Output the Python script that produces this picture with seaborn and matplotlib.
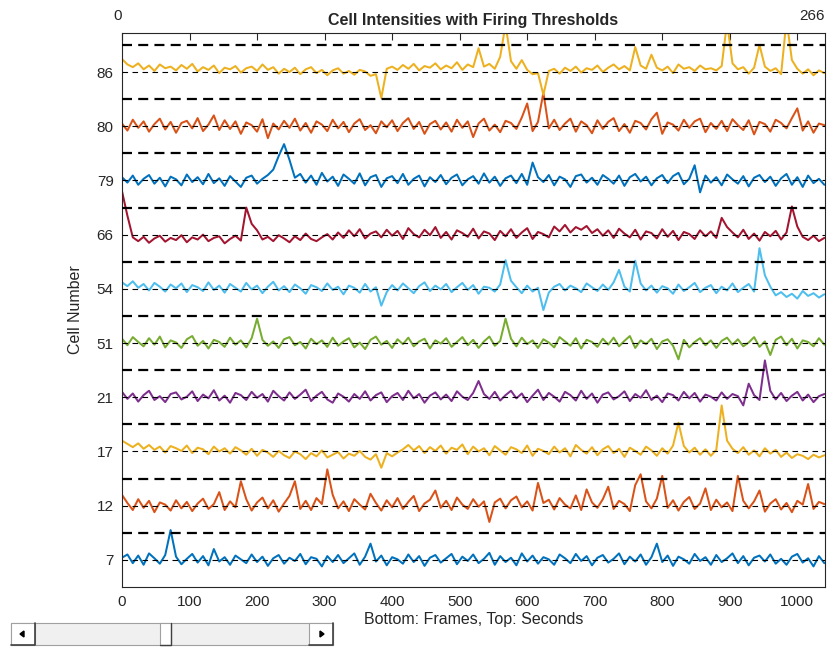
import numpy as np
import pandas as pd
import matplotlib
matplotlib.use("Agg")
import matplotlib.pyplot as plt
from matplotlib.patches import Rectangle, Polygon
import seaborn as sns

# cell labels, bottom to top
cells = ["7", "12", "17", "21", "51", "54", "66", "79", "80", "86"]
colors = ["#0072BD", "#D95319", "#EDB120", "#7E2F8E", "#77AC30",
          "#4DBEEE", "#A2142F", "#0072BD", "#D95319", "#EDB120"]

# one sample every 8 frames, values in hundredths of a row spacing
step = 8
top_seconds = 266

cell7 = [4, 10, -6, 8, -9, 12, 3, -7, 9, 55,
         6, -8, 2, 11, -5, 7, -10, 20, -3, 5,
         -9, 8, 1, -6, 10, -4, 6, -11, 3, 9,
         -7, 4, -2, 11, -8, 5, 2, -12, 7, -4,
         9, -6, 3, 12, -9, 6, 30, -3, 8, -10,
         5, 1, -7, 10, -4, 7, -11, 4, 9, -5,
         3, 11, -8, 6, -2, 10, -6, 2, 13, -9,
         7, -4, 4, -10, 12, -3, 8, -7, 5, 1,
         -9, 10, 3, -6, 11, -2, 7, -10, 4, 9,
         -5, 2, 12, -8, 6, -3, 10, -9, 5, 30,
         -4, 8, -11, 6, 1, -7, 11, -2, 5, -9,
         9, -4, 3, 12, -6, 7, -10, 4, 8, -3,
         10, -7, 2, -9, 6, 11, -5, 3, -12, 7,
         -6]
cell12 = [20, 5, -8, 12, -4, 9, -12, 6, 2, -9,
          10, -5, 7, -10, 4, 13, -6, 3, 25, -8,
          8, -3, 45, 12, -9, 6, 15, -5, 10, -11,
          4, 18, 45, -6, 9, -8, 14, 3, 67, 20,
          -5, 8, -10, 12, 2, -7, 22, 5, -9, 10,
          -3, 14, -6, 7, 18, -10, 4, 11, 28, -4,
          9, -8, 15, 2, -6, 12, -2, 8, -30, 6,
          13, -5, 10, 17, -3, 8, -9, 42, 5, 11,
          -7, 14, 2, -5, 19, -8, 30, 6, -4, 12,
          35, -6, 9, 3, -10, 38, 58, 8, -5, 13,
          55, -4, 10, -9, 7, 16, -6, 4, 32, -8,
          11, -3, 6, -10, 55, 9, -5, 8, 28, -11,
          4, 12, -7, 5, -12, 9, 2, 40, -6, 7,
          3]
cell17 = [20, 14, 8, 15, 5, 12, 3, 9, -2, 10,
          6, 1, 11, -3, 7, 4, -5, 9, 0, 6,
          -4, 8, 2, -6, 5, -8, 3, -2, -10, 1,
          -7, -12, 0, -5, -14, -3, -9, 2, -11, -6,
          -1, -13, -4, -8, 1, -10, -15, -5, -30, -3,
          -9, -2, 4, 12, 2, 10, -3, 8, 1, 11,
          -4, 7, 3, 13, -5, 9, 0, 6, -7, 10,
          2, -6, 8, 4, -3, 11, -8, 5, 1, -5,
          9, -2, 6, -9, 12, 3, -4, 8, -7, 4,
          10, -3, 5, -10, 7, 1, -6, 9, 2, -8,
          6, -4, 11, 53, 10, -2, 7, -6, 4, -8,
          3, 85, 20, 5, -3, 8, -6, 2, -9, 6,
          -4, 3, -10, -2, -12, -5, -8, -14, -6, -11,
          -7]
cell21 = [10, -3, 7, -8, 4, 12, -5, 2, -9, 6,
          9, -4, 1, 11, -7, 5, -2, 13, -6, 3,
          -10, 8, 4, -5, 10, -1, 6, -8, 12, 2,
          -6, 9, -3, 5, 14, -7, 3, 10, -4, -10,
          7, 1, -8, 6, -3, 11, -6, 4, 9, -9,
          2, 8, -5, 12, -2, 6, -10, 3, 9, -4,
          5, -7, 11, 1, -5, 8, 30, 6, -3, 10,
          -6, 4, 12, -2, 7, -9, 3, 14, -5, 8,
          1, -8, 10, 4, -6, 12, -3, 7, -10, 5,
          9, -4, 2, 11, -7, 6, -1, 13, -5, 3,
          -9, 7, 4, -6, 10, -2, 8, -8, 5, 1,
          -6, 9, -3, 6, 2, -15, 25, 4, -5, 68,
          12, -4, 8, -7, 3, 10, -6, 5, -9, 2,
          6]
cell51 = [8, -4, 11, 2, -6, 9, -3, 12, -8, 5,
          1, -9, 7, 13, -5, 4, -10, 6, 2, -7,
          10, -3, 5, -8, 9, 45, 6, -5, 3, -9,
          7, 11, -4, 2, -10, 8, -2, 5, -7, 10,
          -5, 3, 9, -8, 1, -11, 6, 12, -3, 4,
          -9, 7, -2, 10, -6, 3, 8, -10, 5, -1,
          9, -7, 2, 11, -4, 6, -9, 3, 12, -5,
          4, 45, 8, -6, 10, -2, 5, -9, 7, 1,
          -8, 11, 3, -5, 9, -10, 6, 2, -7, 8,
          -3, 10, -6, 4, 13, -9, 5, -2, 8, -11,
          3, 7, -5, -30, 6, -8, 2, 9, -4, 5,
          -9, 4, 10, -3, 7, -6, 1, 11, -7, 3,
          -22, 6, 12, -4, 8, -10, 5, 2, -6, 9,
          -3]
cell54 = [12, 5, 14, 2, 9, -3, 11, 4, -5, 8,
          1, 10, -6, 7, 3, -4, 12, -2, 6, -7,
          9, 2, -5, 11, -1, 6, -8, 4, 13, -3,
          5, -6, 8, 1, -9, 7, 3, -4, 10, -2,
          4, -10, 6, 2, -7, 9, -5, 3, -31, -6,
          7, -3, 10, 1, -8, 5, 12, -4, 6, -1,
          9, -6, 3, 11, -2, 7, -9, 4, 2, -5,
          8, 53, 15, 3, -8, 6, -5, 2, -39, -7,
          4, 9, -3, 6, 1, -6, 10, 3, -4, 8,
          -2, 12, 35, 4, -5, 52, 10, -3, 6, -7,
          5, 1, -9, 8, -4, 3, 11, -6, 2, 7,
          -8, 4, -3, 10, -6, 2, 9, -5, 75, 25,
          4, -12, -6, -15, -9, -18, -4, -13, -8, -16,
          -10]
cell66 = [80, 35, -5, -12, -4, -15, -7, -2, -13, -6,
          -10, -1, -14, -5, -9, 0, -12, -6, -3, -16,
          -8, -2, -11, 50, 20, 8, -9, -4, -12, -1,
          -7, -14, -3, -10, 2, -8, -12, -5, 1, -9,
          4, -6, 8, -3, 10, -7, 2, 6, -5, 9,
          -2, 7, -8, 12, 1, -5, 9, -1, 14, -6,
          5, -9, 8, 3, -4, 11, -7, 6, 2, -10,
          7, -3, 10, -6, 4, 12, -8, 5, 1, -5,
          15, 6, 18, 4, 14, 9, 16, 3, 10, -2,
          8, -6, 11, 2, -5, 9, -9, 6, 3, -7,
          10, -4, 7, -10, 5, 1, -8, 8, -3, 6,
          -6, 31, 14, 4, -5, 9, -8, 2, -11, 5,
          -3, 7, -9, 4, 52, 15, -4, -10, -2, -12,
          -6]
cell79 = [6, -4, 9, -8, 3, 10, -6, 5, -11, 7,
          2, -9, 11, -3, 6, -7, 12, -5, 4, -10,
          8, -2, -12, 5, 9, -6, 3, 10, 20, 45,
          67, 38, 5, 12, -4, 9, -8, 14, -2, 7,
          -10, 11, 3, -6, 13, -9, 6, 10, -12, 4,
          8, -5, 12, -8, 3, 9, -11, 6, -3, 10,
          -7, 5, 11, -9, 2, 8, -6, 13, -4, 7,
          -10, 4, 9, -5, 12, -8, 33, 6, -3, 10,
          -9, 7, 2, -12, 8, 11, -4, 5, -8, 10,
          3, -6, 9, -10, 6, 12, -2, 7, -9, 4,
          10, -5, 8, 14, -7, 3, 28, -22, 9, -4,
          6, -9, 11, 2, -6, 8, -11, 5, 10, -3,
          7, -10, 4, 12, -8, 6, -12, 9, -5, 3,
          -8]
cell80 = [5, -8, 12, -3, 9, -10, 4, 14, -6, 8,
          -12, 6, 10, -4, 15, -9, 3, 20, -7, 11,
          -5, 9, -14, 7, 2, -10, 13, -22, 5, -6,
          10, -3, 14, -8, 6, -12, 9, 3, -9, 12,
          -4, 8, -11, 5, 13, -7, 2, -13, 9, -2,
          11, -9, 6, 15, -5, 8, -14, 4, 10, -6,
          7, -10, 12, -3, 9, -20, 5, 14, -8, 3,
          -11, 10, 6, -5, 16, 42, -9, 8, 62, -4,
          12, -7, 5, 14, -10, 9, 2, -13, 11, -5,
          8, 15, -9, 4, -12, 10, 6, -6, 13, 25,
          -14, 7, 3, -8, 12, -3, 9, 14, -11, 6,
          -5, 10, -9, 13, 2, -7, 11, -15, 8, 4,
          -10, 12, 6, -4, 15, 33, -8, 9, -12, 5,
          2]
cell86 = [24, 14, 9, 16, 5, 12, 2, 14, 7, 10,
          3, 13, 6, 15, 1, 9, 4, 12, -2, 8,
          5, 11, -1, 7, 10, 2, 14, 4, 9, -3,
          6, 0, 8, -4, 5, 9, -2, 4, -6, 3,
          7, -3, 2, -5, 4, 1, -7, -4, -48, 6,
          10, 4, 13, 6, 15, 3, 11, 8, 16, 5,
          12, 7, 18, 4, 14, 9, 44, 10, 15, 6,
          28, 88, 20, 6, 22, 4, -4, -2, -42, 2,
          6, -3, 8, 2, 10, -1, 7, 4, 12, 0,
          8, 14, 5, 11, 3, 46, 12, 6, 32, 8,
          3, 10, -2, 14, 6, 9, 2, 12, 5, 7,
          3, 11, 92, 16, 5, 9, -3, 8, 50, 10,
          2, 7, -4, 96, 22, 6, -3, 5, -6, 3,
          -2]

traces = [cell7, cell12, cell17, cell21, cell51,
          cell54, cell66, cell79, cell80, cell86]

rows = []
for i, (name, vals) in enumerate(zip(cells, traces)):
    for k, v in enumerate(vals):
        rows.append({"frame": k * step, "value": i + v / 100.0, "cell": name})
df = pd.DataFrame(rows)

sns.set_theme(style="white")
plt.rcParams["font.family"] = ["Liberation Sans", "DejaVu Sans"]

fig = plt.figure(figsize=(8.38, 6.48), dpi=100)
ax = fig.add_axes([122 / 838, 1 - 587 / 648, 703 / 838, 554 / 648])

sns.lineplot(data=df, x="frame", y="value", hue="cell",
             palette=dict(zip(cells, colors)), hue_order=cells,
             estimator=None, sort=False, linewidth=1.45, legend=False,
             ax=ax, zorder=2)

for i in range(len(cells)):
    ax.axhline(i, color="black", linewidth=0.8, linestyle=(0, (5, 4)), zorder=3)
    ax.axhline(i + 0.5, color="black", linewidth=1.6, linestyle=(0, (4.5, 2.8)), zorder=3)

ax.set_xlim(0, 1041)
ax.set_ylim(-0.5, 9.72)
ax.set_xticks(np.arange(0, 1001, 100))
ax.set_yticks(range(len(cells)))
ax.set_yticklabels(cells)
ax.tick_params(axis="both", direction="in", length=5, width=0.8, colors="#262626",
               labelsize=11, labelcolor="#262626", top=True, pad=6)
ax.tick_params(axis="x", labeltop=False)
for s in ax.spines.values():
    s.set_color("#262626")
    s.set_linewidth(0.8)
ax.set_xlabel("Bottom: Frames, Top: Seconds", fontsize=11.5, color="#262626", labelpad=2)
ax.set_ylabel("Cell Number", fontsize=11.5, color="#262626", labelpad=10)
ax.set_title("Cell Intensities with Firing Thresholds", fontsize=11.5,
             fontweight="bold", pad=6)
ax.text(0, 1.018, "0", transform=ax.transAxes, ha="right", va="bottom",
        fontsize=11, color="#262626")
ax.text(1.0, 1.018, str(top_seconds), transform=ax.transAxes, ha="right", va="bottom",
        fontsize=11, color="#262626")

# scroll bar widget below the axes, in figure pixels
sb = fig.add_axes([0, 0, 1, 1], zorder=-1)
sb.set_xlim(0, 838)
sb.set_ylim(648, 0)
sb.axis("off")
sb.add_patch(Rectangle((11, 623), 322, 22, facecolor="#F0F0F0", edgecolor="#A0A0A0", linewidth=0.8))
sb.add_patch(Rectangle((11, 623), 24, 22, facecolor="#FFFFFF", edgecolor="#A0A0A0", linewidth=0.8))
sb.add_patch(Rectangle((309, 623), 24, 22, facecolor="#FFFFFF", edgecolor="#A0A0A0", linewidth=0.8))
sb.add_patch(Rectangle((160, 623), 11, 22, facecolor="#FFFFFF", edgecolor="#A0A0A0", linewidth=0.8))
sb.plot([11, 35, 35], [645, 645, 623], color="#404040", linewidth=1.2)
sb.plot([309, 333, 333], [645, 645, 623], color="#404040", linewidth=1.2)
sb.plot([160, 171, 171], [645, 645, 623], color="#404040", linewidth=1.0)
sb.add_patch(Polygon([[20, 634], [24, 631], [24, 637]], closed=True, color="black"))
sb.add_patch(Polygon([[324, 634], [320, 631], [320, 637]], closed=True, color="black"))

fig.savefig("out.png", dpi=100)
